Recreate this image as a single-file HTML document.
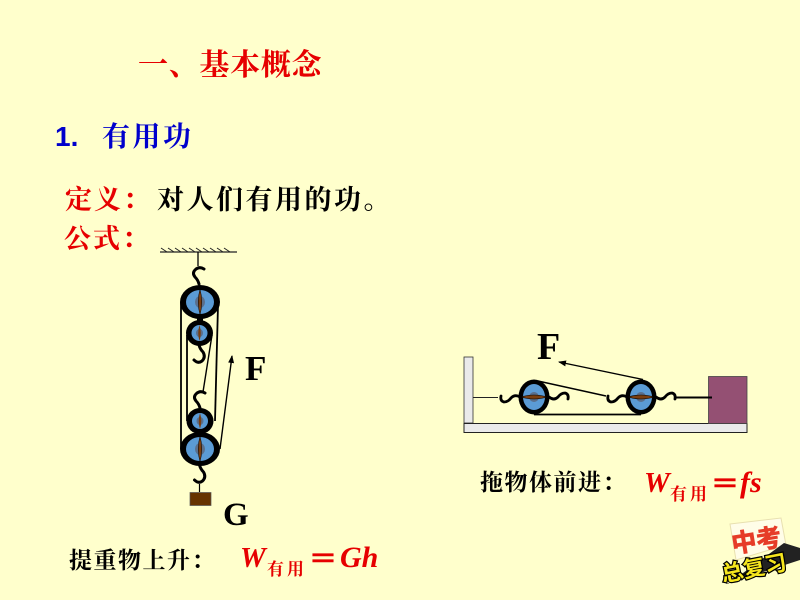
<!DOCTYPE html>
<html><head><meta charset="utf-8">
<style>
html,body{margin:0;padding:0;background:#ffffcc;width:800px;height:600px;overflow:hidden}
svg{display:block}
.k{font-family:"Liberation Serif","Noto Serif CJK SC",serif;font-weight:700}
</style></head>
<body>
<svg width="800" height="600" viewBox="0 0 800 600" xmlns="http://www.w3.org/2000/svg">
<defs>
<marker id="a" markerWidth="8" markerHeight="8" refX="7" refY="3" orient="auto" markerUnits="userSpaceOnUse"><path d="M0 0L8 3L0 6Z" fill="#000"/></marker>
<g id="pv">
<ellipse rx="20" ry="17" fill="#000"/>
<ellipse rx="14" ry="12" fill="#5b9bd5"/>
<ellipse rx="5" ry="6" fill="#5a6f8c"/>
<path d="M0-13Q3.500 0 0 13Q-3.500 0 0-13Z" fill="#7a3e10" stroke="#000" stroke-width=".5"/>
</g>
<g id="ps">
<ellipse rx="13.500" ry="13" fill="#000"/>
<ellipse rx="8" ry="8" fill="#5b9bd5"/>
<ellipse rx="3.500" ry="4" fill="#5a6f8c"/>
<path d="M0-8Q2.500 0 0 8Q-2.500 0 0-8Z" fill="#7a3e10"/>
</g>
<g id="ph">
<ellipse rx="15.500" ry="17.500" fill="#000"/>
<ellipse rx="11" ry="13" fill="#5b9bd5"/>
<ellipse rx="5" ry="5" fill="#5a6f8c"/>
<path d="M-13 0Q0-4 13 0Q0 4-13 0Z" fill="#7a3e10" stroke="#000" stroke-width=".6"/>
</g>
<path id="up" d="M0 0Q-1-4-4-7Q-7-11-4-14Q0-18 5-15" fill="none" stroke="#000" stroke-width="3" stroke-linecap="round"/>
<path id="dn" d="M0 0Q1 4 4 7Q7 12 3 16Q-1 19-5 15" fill="none" stroke="#000" stroke-width="3" stroke-linecap="round"/>
<path id="hl" d="M0 0Q-5-3-9 1Q-12 5-16 5Q-20 4-19-1" fill="none" stroke="#000" stroke-width="2.800" stroke-linecap="round"/>
<path id="hr" d="M0 0Q5 4 9 0Q12-4 16-4Q20-3 19 2" fill="none" stroke="#000" stroke-width="2.800" stroke-linecap="round"/>
</defs>

<rect width="800" height="600" fill="#ffffcc"/>

<!-- text -->
<text class="k" x="138" y="75" font-size="30" fill="#e60000" letter-spacing=".7">一、基本概念</text>
<text x="55" y="146" font-family="Liberation Sans,sans-serif" font-weight="700" font-size="28" fill="#0000cc">1.</text>
<text class="k" x="102" y="146" font-size="28" fill="#0000cc" letter-spacing="2.500">有用功</text>
<text class="k" x="65" y="209" font-size="27" fill="#e60000" letter-spacing="2">定义：</text>
<text class="k" x="157" y="209" font-size="27" fill="#000" letter-spacing="2.500">对人们有用的功。</text>
<text class="k" x="64" y="248" font-size="27" fill="#e60000" letter-spacing="2">公式：</text>

<!-- left pulley system -->
<line x1="160" y1="252" x2="237" y2="252" stroke="#222" stroke-width="1.200"/>
<path d="M161 248l6 4M168 248l6 4M175 248l6 4M182 248l6 4M189 248l6 4M196 248l6 4M203 248l6 4M210 248l6 4M217 248l6 4M224 248l6 4" stroke="#222" stroke-width="1"/>
<line x1="198" y1="252" x2="198" y2="266" stroke="#000" stroke-width="1.300"/>
<use href="#up" x="199" y="284"/>
<line x1="181" y1="302" x2="181" y2="449" stroke="#000" stroke-width="1.800"/>
<line x1="187" y1="335" x2="187" y2="421" stroke="#000" stroke-width="1.800"/>
<line x1="218" y1="305" x2="215" y2="421" stroke="#000" stroke-width="1.800"/>
<line x1="212" y1="335" x2="203" y2="392" stroke="#000" stroke-width="1.400"/>
<line x1="220" y1="449" x2="232" y2="356" stroke="#000" stroke-width="1.400" marker-end="url(#a)"/>
<use href="#dn" x="199" y="345"/>
<use href="#up" x="200" y="408"/>
<rect x="197" y="314" width="6" height="10" fill="#000"/>
<rect x="197" y="432" width="6" height="6" fill="#000"/>
<use href="#pv" x="200" y="302"/>
<use href="#ps" x="199.500" y="333"/>
<use href="#ps" x="200" y="421"/>
<use href="#pv" x="200" y="449"/>
<use href="#dn" x="199.500" y="465"/>
<line x1="199.500" y1="484" x2="199.500" y2="492" stroke="#000" stroke-width="1.200"/>
<rect x="190" y="492.500" width="21" height="13" fill="#663300" stroke="#555" stroke-width=".7"/>
<text x="245" y="380" font-family="Liberation Serif,serif" font-weight="700" font-size="35">F</text>
<text x="223" y="525" font-family="Liberation Serif,serif" font-weight="700" font-size="33">G</text>

<!-- right system -->
<rect x="464" y="357" width="9" height="66" fill="#eaeaea" stroke="#333" stroke-width=".8"/>
<rect x="464" y="423.500" width="283" height="9" fill="#eaeaea" stroke="#222" stroke-width="1"/>
<rect x="708.500" y="376.500" width="38.500" height="47" fill="#945073" stroke="#444" stroke-width=".8"/>
<line x1="473" y1="397.500" x2="498" y2="397.500" stroke="#222" stroke-width="1"/>
<line x1="534" y1="414.500" x2="641" y2="414.500" stroke="#000" stroke-width="1.800"/>
<line x1="538" y1="381" x2="606" y2="396" stroke="#000" stroke-width="1.500"/>
<line x1="643" y1="379.500" x2="559" y2="362" stroke="#000" stroke-width="1.400" marker-end="url(#a)"/>
<line x1="676" y1="397.500" x2="712" y2="397.500" stroke="#000" stroke-width="2"/>
<use href="#hl" x="520" y="397"/>
<use href="#hr" x="549" y="397"/>
<use href="#hl" x="627" y="397"/>
<use href="#hr" x="656" y="397"/>
<use href="#ph" x="534" y="397"/>
<use href="#ph" x="641" y="397"/>
<text x="537" y="359" font-family="Liberation Serif,serif" font-weight="700" font-size="38">F</text>

<!-- formula right -->
<text class="k" x="480" y="490" font-size="23" letter-spacing="1.500">拖物体前进：</text>
<text x="644" y="492" font-family="Liberation Serif,serif" font-weight="700" font-style="italic" font-size="29" fill="#e60000">W</text>
<text class="k" x="670" y="500" font-size="17" fill="#e60000" letter-spacing="3">有用</text>
<text class="k" x="711" y="493" font-size="28" fill="#e60000" stroke="#e60000" stroke-width="1.500">＝</text>
<text x="740" y="492" font-family="Liberation Serif,serif" font-weight="700" font-style="italic" font-size="30" fill="#e60000">fs</text>

<!-- formula left -->
<text class="k" x="69" y="568" font-size="23" letter-spacing="1.500">提重物上升：</text>
<text x="240" y="567" font-family="Liberation Serif,serif" font-weight="700" font-style="italic" font-size="29" fill="#e60000">W</text>
<text class="k" x="267" y="575" font-size="17" fill="#e60000" letter-spacing="3">有用</text>
<text class="k" x="309" y="568" font-size="28" fill="#e60000" stroke="#e60000" stroke-width="1.500">＝</text>
<text x="340" y="567" font-family="Liberation Serif,serif" font-weight="700" font-style="italic" font-size="30" fill="#e60000">Gh</text>

<!-- badge -->
<g>
<path d="M730 524L781 518L786 545L736 560Z" fill="#fffde8" stroke="#e8e0b0" stroke-width="1"/>
<path d="M728 584L784 543L800 548L800 560L726 584Z" fill="#222"/>
<text x="733" y="553" transform="rotate(-9 733 553)" font-family="Liberation Sans,Noto Sans CJK SC,sans-serif" font-weight="700" font-size="25" fill="#e63c28" stroke="#e63c28" stroke-width=".8">中考</text>
<text x="723" y="582" transform="rotate(-11 723 582)" font-family="Liberation Sans,Noto Sans CJK SC,sans-serif" font-weight="700" font-size="22" fill="#f5e61e" stroke="#000" stroke-width="2.500" paint-order="stroke">总复习</text>
</g>
</svg>
</body></html>
